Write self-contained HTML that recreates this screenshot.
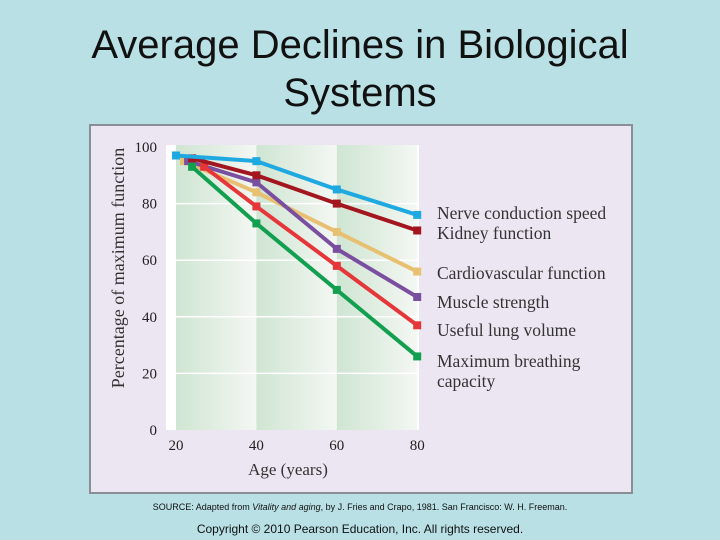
<!DOCTYPE html>
<html><head><meta charset="utf-8"><style>
body{margin:0;width:720px;height:540px;background:#b9e0e4;position:relative;overflow:hidden;font-family:"Liberation Sans",sans-serif}
.title{position:absolute;left:0;width:720px;top:21px;text-align:center;font-size:40px;line-height:48px;color:#111}
.panel{position:absolute;left:89px;top:124px;width:540px;height:366px;background:#ece6f2;border:2px solid #8a8f95}
.src{position:absolute;left:0;width:720px;top:502px;text-align:center;font-size:9px;color:#111}
.copy{position:absolute;left:0;width:720px;top:522px;text-align:center;font-size:12px;color:#111}
</style></head><body>
<div class="title">Average Declines in Biological<br>Systems</div>
<div class="panel"></div>
<svg id="chart" width="720" height="540" style="position:absolute;left:0;top:0">
<defs><linearGradient id="band" x1="0" x2="1" y1="0" y2="0"><stop offset="0" stop-color="#cfe5d2"/><stop offset="1" stop-color="#f4f7f3"/></linearGradient></defs>
</svg>
<div class="src">SOURCE: Adapted from <i>Vitality and aging</i>, by J. Fries and Crapo, 1981. San Francisco: W. H. Freeman.</div>
<div class="copy">Copyright © 2010 Pearson Education, Inc. All rights reserved.</div>
<script>
const yTicks=[0,20,40,60,80,100];
const xTicks=[20,40,60,80];
const seriesNames=["Nerve conduction speed","Kidney function","Cardiovascular function","Muscle strength","Useful lung volume","Maximum breathing capacity"];
const nerveX=[20,40,60,80], nerveY=[97,95,85,76];
const kidneyX=[24,40,60,80], kidneyY=[96,90,80,70.5];
const cardioX=[22,40,60,80], cardioY=[95,84,70,56];
const muscleX=[23,40,60,80], muscleY=[95,87.5,64,47];
const lungX=[27,40,60,80], lungY=[93,79,58,37];
const breathX=[24,40,60,80], breathY=[93,73,49.5,26];
const colors=["#1fa9e1","#a3161f","#e8c071","#7a4fa0","#e5373a","#12a050"];
const NS="http://www.w3.org/2000/svg";
const svg=document.getElementById('chart');
const xs=v=>176+(v-20)*4.02, ys=v=>430-v*2.83;
function mk(t,a,p){const e=document.createElementNS(NS,t);for(const k in a)e.setAttribute(k,a[k]);(p||svg).appendChild(e);return e;}
let bg=mk('rect',{x:166,y:145,width:253,height:285,fill:'#ffffff'});


for(let i=0;i<3;i++){let b=mk('rect',{x:xs(xTicks[i]),y:145,width:xs(xTicks[i+1])-xs(xTicks[i]),height:285,fill:'url(#band)'});

}
yTicks.forEach(t=>{if(t>0&&t<100){let g=mk('line',{x1:166,x2:419,y1:ys(t),y2:ys(t),stroke:'#fff','stroke-width':1.5});

}
let l=mk('text',{x:157,y:ys(t)+5,'text-anchor':'end','font-family':'Liberation Serif,serif','font-size':15,fill:'#222'});l.textContent=t;

});
xTicks.forEach(t=>{let l=mk('text',{x:xs(t),y:450,'text-anchor':'middle','font-family':'Liberation Serif,serif','font-size':15,fill:'#222'});l.textContent=t;

});
let xt=mk('text',{x:288,y:475,'text-anchor':'middle','font-family':'Liberation Serif,serif','font-size':17,fill:'#333'});xt.textContent='Age (years)';


let yt=mk('text',{x:124,y:268,'text-anchor':'middle','font-family':'Liberation Serif,serif','font-size':18,fill:'#333',transform:'rotate(-90 124 268)'});yt.textContent='Percentage of maximum function';


const all=[[nerveX,nerveY],[kidneyX,kidneyY],[cardioX,cardioY],[muscleX,muscleY],[lungX,lungY],[breathX,breathY]];
const order=[2,3,4,5,1,0];
order.forEach(i=>{const [X,Y]=all[i];
let p=mk('polyline',{points:X.map((x,j)=>xs(x)+','+ys(Y[j])).join(' '),fill:'none',stroke:colors[i],'stroke-width':4,'stroke-linejoin':'round'});


X.forEach((x,j)=>{let m=mk('rect',{x:xs(x)-4,y:ys(Y[j])-4,width:8,height:8,fill:colors[i]});

});});
const legY=[219,239,279,308,336,367];
seriesNames.forEach((n,i)=>{let t=mk('text',{x:437,y:legY[i],'font-family':'Liberation Serif,serif','font-size':17.5,fill:'#333'});t.textContent=n==="Maximum breathing capacity"?"Maximum breathing":n;


if(i===5){let t2=mk('text',{x:437,y:387,'font-family':'Liberation Serif,serif','font-size':17.5,fill:'#333'});t2.textContent='capacity';

}});
</script>
</body></html>
